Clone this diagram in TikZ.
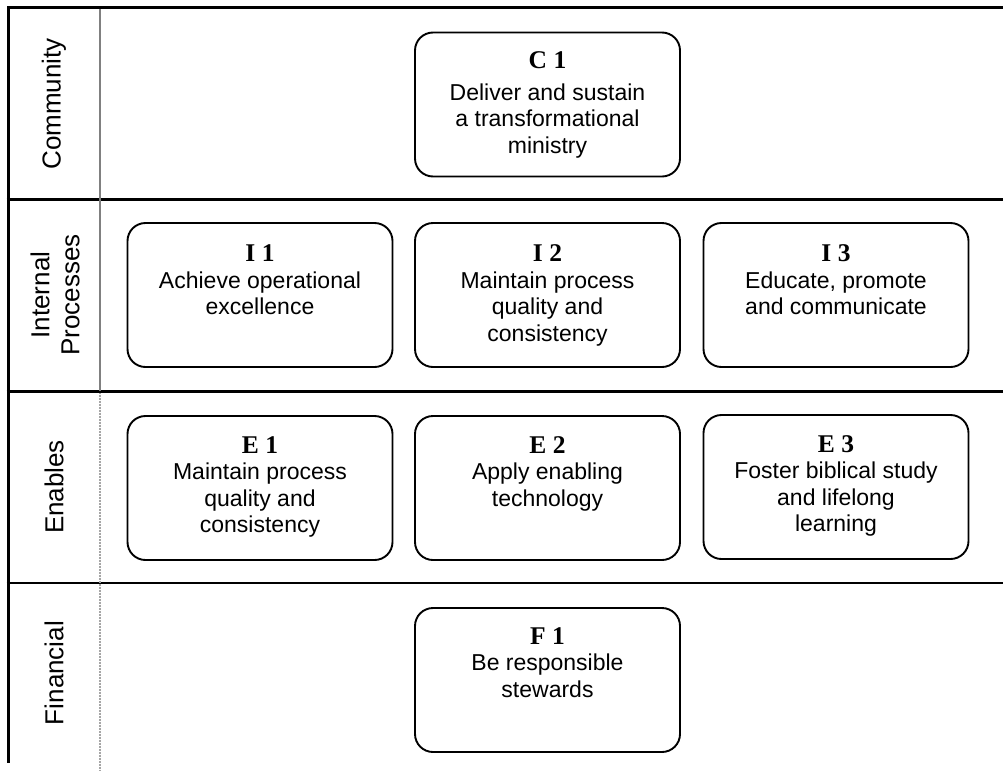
\documentclass[tikz,border=0pt]{standalone}
\usepackage{fontspec}
\setmainfont{Liberation Sans}
\newfontfamily\titlefont{Liberation Serif}
\begin{document}
\begin{tikzpicture}[x=1pt,y=-1pt,
  frame/.style={line width=3pt,black},
  sepline/.style={line width=2.5pt,black},
  laneline/.style={line width=1.8pt,gray},
  lanedot/.style={line width=1.5pt,gray!70,dash pattern=on 0.8pt off 0.7pt},
  goal/.style={draw,line width=1.9pt,rounded corners=18pt,minimum width=265pt,minimum height=144pt,inner sep=0pt},
  goaltxt/.style={anchor=north,inner sep=0pt,align=center,font=\fontsize{23}{26.5}\selectfont},
  lanelbl/.style={rotate=90,align=center,inner sep=0pt,font=\fontsize{26}{30}\selectfont}]
\useasboundingbox (0,0) rectangle (1003,774);
\newcommand\gtitle[1]{{\titlefont\bfseries\fontsize{25.5}{26.5}\selectfont\strut #1}}
% frame and lane lines
\draw[frame] (8,7.5) -- (1003,7.5);
\draw[frame] (8,6) -- (8,763);
\draw[sepline] (6.5,199.5) -- (1003,199.5);
\draw[sepline] (6.5,391.5) -- (1003,391.5);
\draw[sepline] (6.5,583) -- (1003,583);
\draw[laneline] (100,9) -- (100,390.5);
\draw[lanedot] (100,393) -- (100,770);
% lane labels
\node[lanelbl] (lc) at (54,104) {Community};
\node[lanelbl] (li) at (55,295) {Internal\\Processes};
\node[lanelbl] (le) at (54,487) {Enables};
\node[lanelbl] (lf) at (54,673) {Financial};
% goal boxes
\node[goal] (c1) at (547.5,104.5) {};
\node[goal] (i1) at (260,295) {};
\node[goal] (i2) at (547.5,295) {};
\node[goal] (i3) at (836,295) {};
\node[goal] (e1) at (260,488) {};
\node[goal] (e2) at (547.5,488) {};
\node[goal] (e3) at (836,487) {};
\node[goal] (f1) at (547.5,680) {};
% goal texts
\node[goaltxt] (c1t) at ([yshift=-18.5pt]c1.north) {\gtitle{C 1}\\[5pt]Deliver and sustain\\a transformational\\ministry};
\node[goaltxt] (i1t) at ([yshift=-21pt]i1.north) {\gtitle{I 1}\\Achieve operational\\excellence};
\node[goaltxt] (i2t) at ([yshift=-21pt]i2.north) {\gtitle{I 2}\\Maintain process\\quality and\\consistency};
\node[goaltxt] (i3t) at ([yshift=-21pt]i3.north) {\gtitle{I 3}\\Educate, promote\\and communicate};
\node[goaltxt] (e1t) at ([yshift=-19.5pt]e1.north) {\gtitle{E 1}\\Maintain process\\quality and\\consistency};
\node[goaltxt] (e2t) at ([yshift=-19.5pt]e2.north) {\gtitle{E 2}\\Apply enabling\\technology};
\node[goaltxt] (e3t) at ([yshift=-19.5pt]e3.north) {\gtitle{E 3}\\Foster biblical study\\and lifelong\\learning};
\node[goaltxt] (f1t) at ([yshift=-18.5pt]f1.north) {\gtitle{F 1}\\Be responsible\\stewards};
\end{tikzpicture}
\end{document}
